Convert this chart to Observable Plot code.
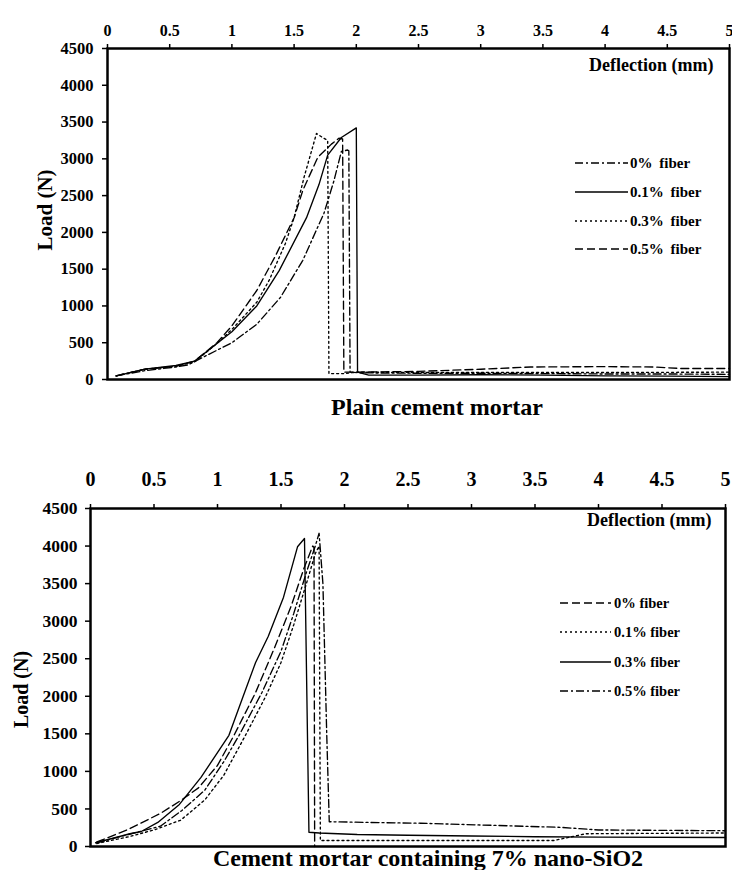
<!DOCTYPE html>
<html>
<head>
<meta charset="utf-8">
<script src="https://cdn.jsdelivr.net/npm/d3@7"></script>
<script src="https://cdn.jsdelivr.net/npm/@observablehq/plot@0.6"></script>
<style>
  html, body { margin: 0; padding: 0; background: white; }
  #wrap { position: relative; width: 732px; height: 870px; overflow: hidden; font-family: "Liberation Serif", "Times New Roman", serif; font-weight: bold; color: black; }
  .title { position: absolute; font-size: 24px; line-height: 24px; white-space: nowrap; transform: translateX(-50%); }
  svg text { font-family: "Liberation Serif", "Times New Roman", serif; font-weight: bold; }
</style>
</head>
<body>
<div id="wrap"></div>
<script>
// ---------- tick values ----------
const xTicks = [0, 0.5, 1, 1.5, 2, 2.5, 3, 3.5, 4, 4.5, 5];
const yTicks = [0, 500, 1000, 1500, 2000, 2500, 3000, 3500, 4000, 4500];

// ---------- Plain cement mortar (deflection mm, load N) ----------
const plainLabels = ["0% fiber", "0.1% fiber", "0.3% fiber", "0.5% fiber"];
const plain0 = [[0.07,50],[0.3,120],[0.55,170],[0.65,200],[0.8,330],[1.0,500],[1.2,750],[1.39,1115],[1.57,1620],[1.74,2260],[1.82,2700],[1.88,3100],[1.93,3120],[1.94,3110],[1.95,100],[2.05,90],[2.5,85],[3,85],[3.5,80],[4,75],[4.5,75],[5,70]];
const plain01 = [[0.07,50],[0.3,140],[0.55,190],[0.7,250],[0.88,490],[1.0,650],[1.2,1000],[1.38,1480],[1.6,2200],[1.7,2650],[1.77,3050],[1.88,3290],[2.0,3420],[2.01,100],[2.1,60],[2.5,60],[3,65],[3.5,60],[4,50],[4.5,45],[5,40]];
const plain03 = [[0.07,50],[0.3,140],[0.55,180],[0.7,240],[0.88,490],[1.0,680],[1.2,1050],[1.3,1350],[1.43,1850],[1.5,2200],[1.58,2750],[1.68,3345],[1.72,3300],[1.77,3250],[1.78,80],[1.9,80],[2.0,100],[2.5,95],[3,95],[4,95],[5,100]];
const plain05 = [[0.07,50],[0.3,140],[0.55,180],[0.7,250],[0.88,500],[1.0,730],[1.2,1210],[1.35,1680],[1.5,2200],[1.57,2570],[1.69,3020],[1.8,3200],[1.86,3280],[1.89,3270],[1.9,100],[2.0,100],[2.5,110],[3.0,140],[3.4,170],[4.0,175],[4.4,170],[4.6,150],[5,150]];

// ---------- Cement mortar containing 7% nano-SiO2 ----------
const nanoLabels = ["0% fiber", "0.1% fiber", "0.3% fiber", "0.5% fiber"];
const nano0 = [[0.05,60],[0.3,230],[0.55,440],[0.7,600],[0.85,780],[1.0,1080],[1.13,1480],[1.3,2050],[1.45,2650],[1.58,3200],[1.68,3700],[1.75,4000],[1.76,3980],[1.765,0]];
const nano01 = [[0.05,40],[0.3,130],[0.5,220],[0.71,350],[0.9,620],[1.05,950],[1.22,1480],[1.38,2000],[1.5,2450],[1.6,2950],[1.7,3500],[1.77,3900],[1.8,4000],[1.81,80],[2.5,80],[3.65,80],[3.9,170],[5,180]];
const nano03 = [[0.04,50],[0.2,120],[0.31,170],[0.4,200],[0.53,320],[0.7,560],[0.87,920],[1.09,1480],[1.2,1990],[1.3,2450],[1.4,2800],[1.52,3320],[1.63,3990],[1.685,4100],[1.72,190],[1.8,180],[2.1,160],[2.5,150],[3,140],[3.5,130],[4,125],[5,120]];
const nano05 = [[0.05,50],[0.3,160],[0.55,270],[0.72,480],[0.9,750],[1.05,1130],[1.17,1480],[1.35,2050],[1.5,2600],[1.6,3100],[1.7,3650],[1.77,4000],[1.8,4170],[1.83,3500],[1.86,1500],[1.88,330],[2.2,320],[2.6,310],[3.2,280],[3.7,255],[4.0,220],[5,210]];

// ---------- styles ----------
const FONT = "'Liberation Serif', 'Times New Roman', serif";
const DASHDOT = "8,3,2,3", DOTTED = "2,3", DASHED = "8,4", SOLID = null;
const plainDash = [DASHDOT, SOLID, DOTTED, DASHED];
const nanoDash = [DASHED, DOTTED, SOLID, DASHDOT];

const toRows = (pts, s) => pts.map(([x, y]) => ({x, y, s}));

function makeChart(cfg) {
  const lines = cfg.series.map((pts, i) =>
    Plot.line(toRows(pts, cfg.labels[i]), {
      x: "x", y: "y", stroke: "black", strokeWidth: 1.35,
      strokeDasharray: cfg.dash[i] || undefined
    })
  );
  return Plot.plot({
    width: 732, height: cfg.height,
    marginTop: cfg.mt, marginLeft: cfg.ml, marginRight: cfg.mr, marginBottom: cfg.mb,
    style: { fontFamily: FONT, fontWeight: "bold", background: "white", color: "black", overflow: "visible" },
    x: { domain: [0, 5] },
    y: { domain: [0, 4500] },
    marks: [
      Plot.axisX({ anchor: "top", ticks: xTicks, tickFormat: d => String(d), tickSize: 5, tickPadding: cfg.xPad, fontSize: cfg.xFont, fontFamily: FONT, fontWeight: "bold", strokeWidth: 1.5, label: null }),
      Plot.axisY({ anchor: "left", ticks: yTicks, tickFormat: d => String(d), tickSize: 5, tickPadding: cfg.yPad, fontSize: cfg.yFont, fontFamily: FONT, fontWeight: "bold", strokeWidth: 1.5, label: null }),
      ...lines,
      Plot.frame({ stroke: "black", strokeWidth: 2.5 }),
      Plot.text(["Deflection (mm)"], { frameAnchor: "top-right", textAnchor: "end", lineAnchor: "middle", dx: cfg.defDx, dy: cfg.defDy, fontSize: 18, fontFamily: FONT, fontWeight: "bold", fill: "black" }),
      Plot.text(["Load (N)"], { frameAnchor: "left", rotate: -90, textAnchor: "middle", lineAnchor: "middle", dx: cfg.loadDx, dy: cfg.loadDy, fontSize: cfg.loadFont, fontFamily: FONT, fontWeight: "bold", fill: "black" })
    ]
  });
}

const wrap = document.getElementById("wrap");

const chartTop = makeChart({
  series: [plain0, plain01, plain03, plain05], labels: plainLabels, dash: plainDash,
  height: 390, mt: 48, ml: 107, mr: 3, mb: 11,
  xPad: 8, xFont: 16, yPad: 9, yFont: 16.5,
  defDx: -16, defDy: 17, loadDx: -62, loadDy: -4, loadFont: 21
});
chartTop.style.position = "absolute"; chartTop.style.left = "0px"; chartTop.style.top = "0px";
wrap.appendChild(chartTop);

const chartBot = makeChart({
  series: [nano0, nano01, nano03, nano05], labels: nanoLabels, dash: nanoDash,
  height: 410, mt: 68, ml: 90, mr: 7, mb: 4,
  xPad: 18, xFont: 20, yPad: 8, yFont: 17.5,
  defDx: -14, defDy: 12, loadDx: -69, loadDy: 12, loadFont: 20
});
chartBot.style.position = "absolute"; chartBot.style.left = "0px"; chartBot.style.top = "440px";
wrap.appendChild(chartBot);

// ---------- legends (overlay) ----------
const NS = "http://www.w3.org/2000/svg";
const leg = document.createElementNS(NS, "svg");
leg.setAttribute("width", 732); leg.setAttribute("height", 870);
leg.style.position = "absolute"; leg.style.left = "0"; leg.style.top = "0"; leg.style.pointerEvents = "none";
wrap.appendChild(leg);
function legend(labels, dashes, x0, x1, tx, baselines, fs, ws) {
  labels.forEach((lab, i) => {
    const l = document.createElementNS(NS, "line");
    l.setAttribute("x1", x0); l.setAttribute("x2", x1);
    l.setAttribute("y1", baselines[i] - 5); l.setAttribute("y2", baselines[i] - 5);
    l.setAttribute("stroke", "black"); l.setAttribute("stroke-width", 1.6);
    if (dashes[i]) l.setAttribute("stroke-dasharray", dashes[i]);
    leg.appendChild(l);
    const t = document.createElementNS(NS, "text");
    t.setAttribute("x", tx); t.setAttribute("y", baselines[i]);
    t.setAttribute("font-family", FONT);
    t.setAttribute("font-weight", "bold"); t.setAttribute("font-size", fs);
    t.setAttribute("word-spacing", ws);
    t.textContent = lab;
    leg.appendChild(t);
  });
}
legend(plainLabels, plainDash, 575, 628, 630, [168, 197, 226, 254], 15, 3);
legend(nanoLabels, nanoDash, 560, 611, 614, [608, 637, 667, 696], 14.5, 0);

// ---------- titles ----------
const t1 = document.createElement("div");
t1.className = "title"; t1.textContent = "Plain cement mortar";
t1.style.left = "437px"; t1.style.top = "395px";
wrap.appendChild(t1);
const t2 = document.createElement("div");
t2.className = "title"; t2.textContent = "Cement mortar containing 7% nano-SiO2";
t2.style.left = "428px"; t2.style.top = "846px";
wrap.appendChild(t2);
</script>
</body>
</html>
